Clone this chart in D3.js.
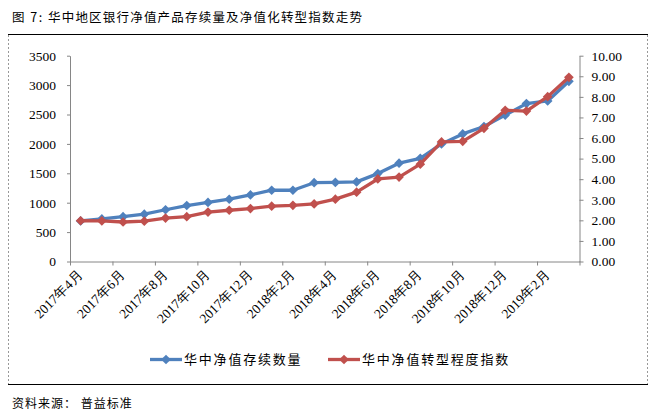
<!DOCTYPE html>
<html><head><meta charset="utf-8">
<script src="https://cdn.jsdelivr.net/npm/d3@7"></script>
<style>
body{margin:0;background:#fff;}
svg{display:block;}
</style></head>
<body><svg id="c" width="665" height="416"></svg>
<script>
const categories = ["2017年4月","2017年5月","2017年6月","2017年7月","2017年8月","2017年9月","2017年10月","2017年11月","2017年12月",
  "2018年1月","2018年2月","2018年3月","2018年4月","2018年5月","2018年6月","2018年7月","2018年8月","2018年9月","2018年10月","2018年11月","2018年12月",
  "2019年1月","2019年2月","2019年3月"];
const stockCount = [690,724,763,804,880,952,1005,1059,1133,1212,1212,1340,1345,1354,1495,1672,1755,2000,2170,2295,2490,2685,2730,3065];
const transIndex = [1.98,1.97,1.92,1.96,2.11,2.18,2.40,2.49,2.57,2.69,2.73,2.80,3.03,3.37,4.01,4.10,4.73,5.81,5.84,6.47,7.35,7.31,8.01,8.95];
const leftTicks = [0,500,1000,1500,2000,2500,3000,3500];
const rightTicks = [0,1,2,3,4,5,6,7,8,9,10];
const seriesNames = ["华中净值存续数量","华中净值转型程度指数"];
const titlePrefix = "图 7:";
const title = "华中地区银行净值产品存续量及净值化转型指数走势";
const source = "资料来源： 普益标准";

const svg = d3.select("#c");
const blue = "#4F81BD", red = "#C0504D", axisCol = "#868686";
const numFont = "'Liberation Serif','Times New Roman',serif";
const cjkFont = "'Noto Sans CJK SC','Noto Sans CJK JP',sans-serif";

// frame
svg.append("line").attr("x1",8).attr("x2",648).attr("y1",34.5).attr("y2",34.5).attr("stroke","#000").attr("stroke-width",1);
svg.append("line").attr("x1",8).attr("x2",648).attr("y1",384.5).attr("y2",384.5).attr("stroke","#000").attr("stroke-width",1);
[8.5,647.5].forEach(x=>svg.append("line").attr("x1",x).attr("x2",x).attr("y1",35).attr("y2",384)
  .attr("stroke","#999").attr("stroke-dasharray","2,2").attr("stroke-width",1));

const t = svg.append("text").attr("y",22).attr("font-family",cjkFont).attr("font-size",12.5).attr("fill","#000");
t.append("tspan").attr("x",12).attr("letter-spacing",1.5).text(titlePrefix);
t.append("tspan").attr("x",48).attr("letter-spacing",1.2).text(title);
svg.append("text").attr("x",12).attr("y",408).attr("font-family",cjkFont).attr("font-size",12)
  .attr("letter-spacing",1).attr("fill","#000").text(source);

const x0 = 70, x1 = 579.5, yBottom = 261.5, yTop = 55.7;
const x = d3.scaleBand().domain(categories).range([x0,x1]).padding(0);
const xIdx = d3.scaleLinear().domain([0,categories.length]).range([x0,x1]);
const yL = d3.scaleLinear().domain([0,3500]).range([yBottom,yTop]);
const yR = d3.scaleLinear().domain([0,10]).range([yBottom,yTop]);

function styleAxis(g){
  g.select(".domain").attr("stroke",axisCol);
  g.selectAll(".tick line").attr("stroke",axisCol);
  g.selectAll(".tick text").attr("font-family",numFont).attr("font-size",13.5).attr("fill","#000");
}
const gL = svg.append("g").attr("transform",`translate(${x0},0)`)
  .call(d3.axisLeft(yL).tickValues(leftTicks).tickSize(3).tickSizeOuter(0).tickPadding(11).tickFormat(d3.format("d")));
styleAxis(gL);
const gR = svg.append("g").attr("transform",`translate(${x1},0)`)
  .call(d3.axisRight(yR).tickValues(rightTicks).tickSize(4).tickSizeOuter(0).tickPadding(8).tickFormat(d3.format(".2f")));
styleAxis(gR);
const gX = svg.append("g").attr("transform",`translate(0,${yBottom})`)
  .call(d3.axisBottom(xIdx).tickValues(d3.range(0,categories.length+1,2)).tickSize(4).tickSizeOuter(0).tickFormat(""));
styleAxis(gX);

// rotated category labels every 2 months
svg.append("g").selectAll("text").data(categories.filter((d,i)=>i%2===0)).join("text")
  .attr("transform",d=>`translate(${x(d)+x.bandwidth()/2+3},${yBottom+14}) rotate(-45)`)
  .attr("text-anchor","end").attr("font-family",numFont).attr("font-size",13.5).attr("fill","#000")
  .text(d=>d);

const diamond = d3.symbol().type(d3.symbolDiamond2).size(60);
function drawSeries(vals, yS, col){
  const line = d3.line().x((d,i)=>x(categories[i])+x.bandwidth()/2).y(d=>yS(d));
  svg.append("path").datum(vals).attr("d",line).attr("fill","none").attr("stroke",col)
    .attr("stroke-width",3.3).attr("stroke-linejoin","round");
  svg.append("g").selectAll("path").data(vals).join("path")
    .attr("transform",(d,i)=>`translate(${x(categories[i])+x.bandwidth()/2},${yS(d)})`)
    .attr("d",diamond).attr("fill",col);
}
drawSeries(stockCount, yL, blue);
drawSeries(transIndex, yR, red);

// legend
const legend = [{n:seriesNames[0],c:blue,x:150},{n:seriesNames[1],c:red,x:328}];
legend.forEach(l=>{
  svg.append("line").attr("x1",l.x).attr("x2",l.x+32).attr("y1",359.5).attr("y2",359.5).attr("stroke",l.c).attr("stroke-width",3.3);
  svg.append("path").attr("transform",`translate(${l.x+16},359.5)`).attr("d",diamond).attr("fill",l.c);
  svg.append("text").attr("x",l.x+34).attr("y",364).attr("font-family",cjkFont).attr("font-size",13)
    .attr("letter-spacing",1.8).attr("fill","#000").text(l.n);
});
</script></body></html>
